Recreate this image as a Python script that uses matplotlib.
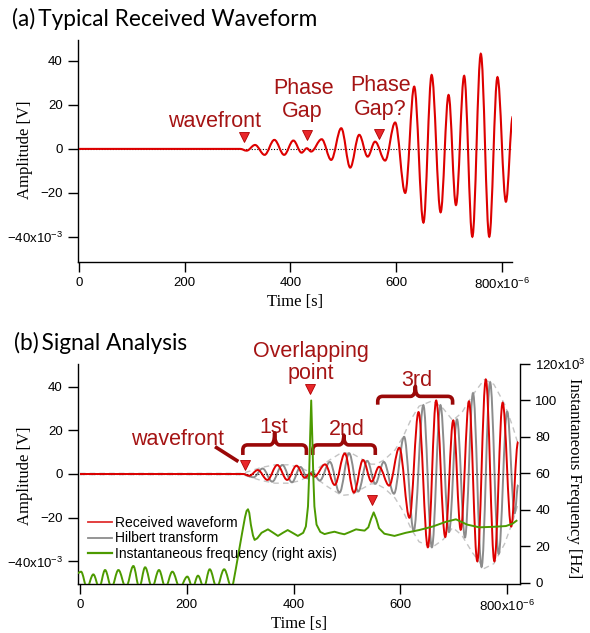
import matplotlib
matplotlib.use('Agg')
import matplotlib.pyplot as plt
from matplotlib.path import Path
from matplotlib.patches import PathPatch
from matplotlib.lines import Line2D

plt.rcParams['font.family'] = ['Liberation Sans', 'DejaVu Sans']
plt.rcParams['mathtext.fontset'] = 'custom'
plt.rcParams['mathtext.rm'] = 'Liberation Sans'
plt.rcParams['mathtext.default'] = 'regular'

# received waveform, extremes (time in us, amplitude in mV)
red_t = [0, 305, 317, 333, 351, 369.5, 388, 405.5, 421, 431, 439, 459, 477, 496, 513,
         530, 546, 560, 579, 598, 617, 634, 651.5, 667, 684, 699, 713, 728.5, 744,
         760, 776, 791.5, 807.5, 820.5]
red_v = [0, 0, -0.8, 1.8, -2.7, 4.1, -2.7, 3.8, -1.7, 0.3, -1.2, 4.4, -5, 9.4, -8.5,
         6.4, -3.5, 3.3, -5.3, 12, -20, 28.3, -33.5, 33.6, -28.8, 24.5, -25.5, 33.2, -39.9,
         43.2, -39.9, 32.6, -24, 14.7]

# hilbert transform extremes
hil_t = [0, 305, 325, 342, 360, 379, 397, 413, 426, 435, 449, 468, 486, 504, 521, 538,
         553, 569, 588, 607, 625, 643, 659, 675, 691, 706, 721, 736, 752, 768, 784,
         800, 814, 820.5]
hil_v = [0, 0, -1.5, 2.5, -3.5, 4.1, -3.8, 3.2, -2, 1, -3, 5.5, -8.5, 9.5, -8, 6,
         -4.5, 5.5, -9, 17, -26, 31.5, -33.5, 31.5, -26.5, 25, -29, 37, -42.5, 42, -36.5,
         28.5, -18, -5]

# envelope (upper half, lower is mirrored)
env_t = [0, 305, 320, 340, 365, 390, 410, 425, 434, 445, 465, 490, 510, 530, 545, 555,
         570, 590, 605, 620, 635, 660, 680, 698, 715, 735, 757, 775, 795, 810, 820]
env_v = [0.3, 0.3, 1.5, 3, 4.2, 4.2, 3.2, 1.5, 0.5, 2.5, 6, 9.8, 9.3, 6.5, 4.5, 4.5,
         6.5, 11, 17, 25, 31, 33.5, 30, 24.5, 28, 36, 43.2, 41, 32, 22, 14]

# instantaneous frequency before the wavefront (kHz), arch tops and cusps
arch_t = [-4, 2, 13, 25, 36, 47, 59, 72, 86, 100, 111, 122, 135, 148, 160, 173, 187,
          201, 211, 221, 232, 243, 256, 270, 284]
arch_v = [5.5, 6.2, -2.5, 4.7, -2.5, 7.1, -2.5, 7.1, -2.5, 9.3, -2.5, 8.6, -2.5, 7.1, -2.5,
          6.2, -2.5, 3.5, -2.5, 4.0, -2.5, 7.5, -2.5, 7.5, -2.5]

# instantaneous frequency after the wavefront (kHz)
freq_t = [284, 287, 292, 298, 304, 309, 312, 314.6, 317, 320, 324, 327, 332, 340, 352,
          362, 370.7, 380, 389, 398, 408, 418, 423, 427, 429, 431, 433, 435, 437, 439,
          443, 450, 458, 467, 476.6, 486, 495, 506, 517, 525, 533, 540, 545, 550, 555,
          560, 570, 589, 610, 635, 660, 685, 704, 725, 747.7, 775, 797.6, 810, 817.4]
freq_v = [-2.5, 0, 8, 18, 28, 36, 39.5, 40.4, 38.5, 32, 26, 23.6, 24.5, 27.5, 29.4,
          27.5, 25.8, 27.5, 29, 27.5, 25.8, 27.5, 31, 42, 58, 80, 100, 80, 58, 42,
          32, 28, 26.8, 27.5, 28.1, 27.3, 26.7, 28, 29.4, 29, 28.7, 30.5, 35, 38.7, 35,
          30, 27, 25.8, 27.5, 29, 30.9, 33.5, 34.9, 32, 30.5, 30.8, 31.2, 32.5, 34.1]

RED = '#dd0000'
GRAY = '#8c8c8c'
GREEN = '#4c9a00'
TXT = '#a51414'
BRK = '#9a0808'


def wave(ts, vs):
    # smooth curve through extremes, flat tangent at every point
    verts = [(ts[0], vs[0])]
    codes = [Path.MOVETO]
    for i in range(1, len(ts)):
        d = ts[i] - ts[i - 1]
        verts += [(ts[i - 1] + 0.36 * d, vs[i - 1]), (ts[i] - 0.36 * d, vs[i]), (ts[i], vs[i])]
        codes += [Path.CURVE4] * 3
    return Path(verts, codes)


def brace(ax, x0, x1, xm, ye, yl, yt, rt=9, ra=2.3):
    verts = [(x0, ye), (x0, yl - ra), (x0, yl), (x0 + rt, yl), (xm - rt, yl),
             (xm, yl), (xm, yt), (xm, yl), (xm + rt, yl), (x1 - rt, yl),
             (x1, yl), (x1, yl - ra), (x1, ye)]
    codes = [Path.MOVETO, Path.LINETO, Path.CURVE3, Path.CURVE3, Path.LINETO,
             Path.CURVE3, Path.CURVE3, Path.CURVE3, Path.CURVE3, Path.LINETO,
             Path.CURVE3, Path.CURVE3, Path.LINETO]
    ax.add_patch(PathPatch(Path(verts, codes), fill=False, edgecolor=BRK, lw=2.6,
                           capstyle='butt', joinstyle='round', zorder=6))


def mark(ax, x, y):
    ax.plot([x], [y], marker='v', ms=7.5, color='#e8262a', mec='#b00000', mew=0.6,
            zorder=7, clip_on=False)


def style(ax):
    for s in ['top', 'right']:
        ax.spines[s].set_visible(False)
    for s in ['left', 'bottom']:
        ax.spines[s].set_linewidth(1.0)
    ax.tick_params(direction='out', length=7, width=1, labelsize=9.5, pad=4)
    ax.set_xticks([0, 200, 400, 600, 800])
    ax.set_xticklabels(['0', '200', '400', '600', '800x10$^{-6}$'])
    ax.set_yticks([-40, -20, 0, 20, 40])
    ax.set_yticklabels(['\u221240x10$^{-3}$', '\u221220', '0', '20', '40'])
    ax.set_xlabel('Time [s]', family='Liberation Serif', fontsize=12, labelpad=1)


fig = plt.figure(figsize=(5.9, 6.33), dpi=100)
serif = dict(family='Liberation Serif', fontsize=12, ha='center', va='center')

# ---------- (a)
ax1 = fig.add_axes([78 / 590, 1 - 262 / 633, 434 / 590, 222 / 633])
ax1.set_xlim(-1.9, 819)
ax1.set_ylim(-51.4, 49.5)
style(ax1)
ax1.plot([0, 820], [0, 0], ls=(0, (1, 1.5)), color='k', lw=0.8, zorder=2)
ax1.add_patch(PathPatch(wave(red_t, red_v), fill=False, edgecolor=RED, lw=1.5, zorder=3))

ax1.text(256.3, 10, 'wavefront', color=TXT, fontsize=15.5, ha='center', va='baseline')
ax1.text(424.6, 25, 'Phase', color=TXT, fontsize=15.5, ha='center', va='baseline')
ax1.text(422.7, 14.5, 'Gap', color=TXT, fontsize=15.5, ha='center', va='baseline')
ax1.text(571, 26.4, 'Phase', color=TXT, fontsize=15.5, ha='center', va='baseline')
ax1.text(570, 15.5, 'Gap?', color=TXT, fontsize=15.5, ha='center', va='baseline')
mark(ax1, 312.8, 5.5)
mark(ax1, 432, 6.1)
mark(ax1, 568, 6.8)

fig.text(12 / 590, 1 - 26 / 633, '(a)\u2009Typical Received Waveform', family=['Lato', 'DejaVu Sans'],
         fontsize=16.3, va='baseline')
fig.text(25 / 590, 1 - 150 / 633, 'Amplitude [V]', rotation=90, **serif)

# ---------- (b)
ax2 = fig.add_axes([78 / 590, 1 - 584 / 633, 442 / 590, 220 / 633])
ax2.set_xlim(-3.7, 824)
ax2.set_ylim(-50.3, 50.3)
style(ax2)
ax2.plot(env_t, env_v, color='#c4c4c4', lw=1.0, ls=(0, (4, 3)), zorder=2)
ax2.plot(env_t, [-v for v in env_v], color='#c4c4c4', lw=1.0, ls=(0, (4, 3)), zorder=2)
ax2.add_patch(PathPatch(wave(hil_t, hil_v), fill=False, edgecolor=GRAY, lw=1.4, zorder=3))
ax2.plot([0, 824], [0, 0], ls=(0, (1, 1.5)), color='k', lw=0.8, zorder=3.5)
ax2.add_patch(PathPatch(wave(red_t, red_v), fill=False, edgecolor=RED, lw=1.4, zorder=4))

ax3 = ax2.twinx()
ax3.set_ylim(-0.55, 120)
for s in ['top', 'left', 'bottom']:
    ax3.spines[s].set_visible(False)
ax3.spines['right'].set_linewidth(1.0)
ax3.tick_params(direction='out', length=7, width=1, labelsize=9.5, pad=4)
ax3.set_yticks([0, 20, 40, 60, 80, 100, 120])
ax3.set_yticklabels(['0', '20', '40', '60', '80', '100', '120x10$^{3}$'])
ax3.add_patch(PathPatch(wave(arch_t, arch_v), fill=False, edgecolor=GREEN, lw=1.4, zorder=5))
ax3.plot(freq_t, freq_v, color=GREEN, lw=1.4, zorder=5)

fig.text(25 / 590, 1 - 476 / 633, 'Amplitude [V]', rotation=90, **serif)
fig.text(574 / 590, 1 - 478 / 633, 'Instantaneous Frequency [Hz]', rotation=-90, **serif)

# annotations
ax2.text(182.7, 13.3, 'wavefront', color=TXT, fontsize=15.5, ha='center', va='baseline', zorder=8)
ax2.plot([252.9, 296.6], [12.5, 5.7], color=BRK, lw=2.6, solid_capstyle='butt', zorder=8)
ax2.text(363.5, 18.7, '1st', color=TXT, fontsize=15.5, ha='center', va='baseline')
ax2.text(499.7, 17.8, '2nd', color=TXT, fontsize=15.5, ha='center', va='baseline')
ax2.text(630.8, 40.2, '3rd', color=TXT, fontsize=15.5, ha='center', va='baseline')
ax2.text(432.8, 53.6, 'Overlapping', color=TXT, fontsize=15.5, ha='center', va='baseline')
ax2.text(432.8, 43.4, 'point', color=TXT, fontsize=15.5, ha='center', va='baseline')
brace(ax2, 305, 424, 364.5, 8.7, 13.3, 18.8)
brace(ax2, 436, 553, 494, 8.7, 13.3, 17.8)
brace(ax2, 557.6, 697.8, 628, 31.7, 35.5, 40.1)

for x, y in [(308.4, 4.1), (431.2, 39), (547, -12.4)]:
    ax3.plot([x], [60 + y * 120 / 100.6], marker='v', ms=7.5, color='#e8262a', mec='#b00000',
             mew=0.6, zorder=9, clip_on=False)

handles = [Line2D([], [], color='#e03030', lw=1.3), Line2D([], [], color=GRAY, lw=1.3),
           Line2D([], [], color=GREEN, lw=1.6)]
labels = ['Received waveform', 'Hilbert transform', 'Instantaneous frequency (right axis)']
leg = ax3.legend(handles, labels, loc='upper left', bbox_to_anchor=(88 / 590, 1 - 516 / 633),
                 bbox_transform=fig.transFigure, frameon=False, fontsize=10, borderpad=0,
                 borderaxespad=0, handlelength=1.75, handletextpad=0.2, labelspacing=0.1)

fig.text(14 / 590, 1 - 350 / 633, '(b)\u2009Signal Analysis', family=['Lato', 'DejaVu Sans'],
         fontsize=16.3, va='baseline')

fig.savefig('out.png', dpi=100)
